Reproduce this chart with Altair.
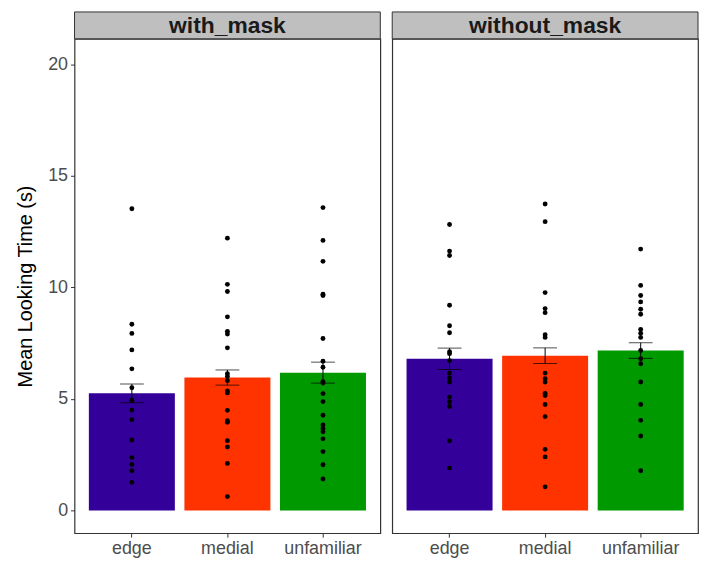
import altair as alt
import pandas as pd

panels = ["with_mask", "without_mask"]
conditions = ["edge", "medial", "unfamiliar"]
colors = ["#330099", "#FF3300", "#009900"]

# individual looking times (s)
with_edge = [13.53, 8.35, 7.94, 7.20, 6.35, 5.50, 4.94, 4.50, 4.07, 3.16, 2.37, 2.06, 1.78, 1.26]
with_medial = [12.21, 10.14, 9.82, 8.68, 8.03, 7.91, 7.29, 6.13, 6.01, 5.82, 5.36, 5.27,
               4.49, 4.02, 3.95, 3.13, 2.85, 2.11, 0.62]
with_unfamiliar = [13.58, 12.11, 11.17, 9.70, 9.64, 7.71, 6.69, 6.42, 5.77, 5.71, 5.24, 4.88,
                   4.27, 3.83, 3.68, 3.53, 3.21, 2.64, 2.05, 1.41]
without_edge = [12.82, 11.63, 11.43, 9.20, 8.28, 7.97, 7.12, 7.03, 6.72, 6.16, 5.95, 5.76,
                5.08, 4.87, 4.66, 3.12, 1.90]
without_medial = [13.74, 12.95, 9.77, 9.05, 8.87, 7.88, 7.76, 6.16, 5.91, 5.76, 5.25, 5.15,
                  4.75, 4.21, 2.74, 2.40, 1.06]
without_unfamiliar = [11.72, 10.09, 9.64, 9.35, 9.02, 8.80, 8.12, 7.95, 7.76, 7.17, 6.80, 6.58,
                      5.76, 4.75, 4.04, 3.34, 1.78]

# bar means and standard errors
means_with = [5.25, 5.96, 6.18]
se_with = [0.42, 0.34, 0.47]
means_without = [6.80, 6.94, 7.17]
se_without = [0.48, 0.35, 0.35]

points_by_panel = {
    "with_mask": [with_edge, with_medial, with_unfamiliar],
    "without_mask": [without_edge, without_medial, without_unfamiliar],
}
summary_by_panel = {
    "with_mask": (means_with, se_with),
    "without_mask": (means_without, se_without),
}

pt_rows, sum_rows = [], []
for p in panels:
    for c, vals in zip(conditions, points_by_panel[p]):
        for v in vals:
            pt_rows.append({"mask": p, "condition": c, "value": v})
    m, s = summary_by_panel[p]
    for c, mm, ss in zip(conditions, m, s):
        sum_rows.append({"mask": p, "condition": c, "mean": mm, "lo": mm - ss, "hi": mm + ss})
points = pd.DataFrame(pt_rows)
summary = pd.DataFrame(sum_rows)

W, H, STRIP = 308, 498, 27
FONT = "Liberation Sans"

x_enc = alt.X(
    "condition:N",
    scale=alt.Scale(domain=conditions, paddingInner=0.1, paddingOuter=0.15),
    axis=alt.Axis(title=None, labelFontSize=18, labelColor="#4d4d4d", tickSize=4,
                  tickColor="#333333", domain=False, labelPadding=2, labelAngle=0,
                  labelFont=FONT, grid=False),
)
yscale = alt.Scale(domain=[-1.02, 21.15], nice=False, zero=False)


def yenc(field, show):
    if show:
        ax = alt.Axis(values=[0, 5, 10, 15, 20], title="Mean Looking Time (s)", titleFontSize=20,
                      titleFontWeight="normal", titleColor="#000000", titleFont=FONT,
                      labelFontSize=18, labelColor="#4d4d4d", labelFont=FONT, tickSize=4,
                      tickColor="#333333", domain=False, grid=False, labelPadding=3,
                      titlePadding=12)
    else:
        ax = None
    return alt.Y(field, scale=yscale, axis=ax)


def panel(name, show_y):
    sdat = alt.Chart(summary).transform_filter(alt.datum.mask == name)
    bars = sdat.mark_bar().encode(
        x=x_enc, y=yenc("mean:Q", show_y), y2=alt.datum(0),
        color=alt.Color("condition:N", scale=alt.Scale(domain=conditions, range=colors), legend=None),
    )
    rule = sdat.mark_rule(color="black", strokeWidth=1).encode(
        x=x_enc, y=yenc("lo:Q", show_y), y2="hi:Q")
    tlo = sdat.mark_tick(color="black", size=24, thickness=1).encode(x=x_enc, y=yenc("lo:Q", show_y))
    thi = sdat.mark_tick(color="black", size=24, thickness=1).encode(x=x_enc, y=yenc("hi:Q", show_y))
    pts = alt.Chart(points).transform_filter(alt.datum.mask == name).mark_circle(
        size=24, color="black", opacity=1).encode(x=x_enc, y=yenc("value:Q", show_y))
    sd = alt.Chart(pd.DataFrame({"mask": [name]}))
    strip = sd.mark_rect(fill="#bfbfbf", stroke="#333333", strokeWidth=1).encode(
        x=alt.value(0), x2=alt.value(W), y=alt.value(-STRIP), y2=alt.value(0))
    label = sd.mark_text(fontSize=23, fontWeight="bold", font=FONT, color="#1a1a1a",
                         baseline="middle", align="center").encode(
        x=alt.value(W / 2), y=alt.value(-STRIP / 2 + 1), text="mask:N")
    return alt.layer(bars, rule, tlo, thi, pts, strip, label).properties(width=W, height=H)


chart = alt.hconcat(panel("with_mask", True), panel("without_mask", False), spacing=8).properties(
    padding={"left": 7, "top": 0, "right": 0, "bottom": 0}
).configure(font=FONT, background="white").configure_view(stroke="#333333", strokeWidth=1.2)

chart.save("out.html", embed_options={"renderer": "svg", "actions": False})
